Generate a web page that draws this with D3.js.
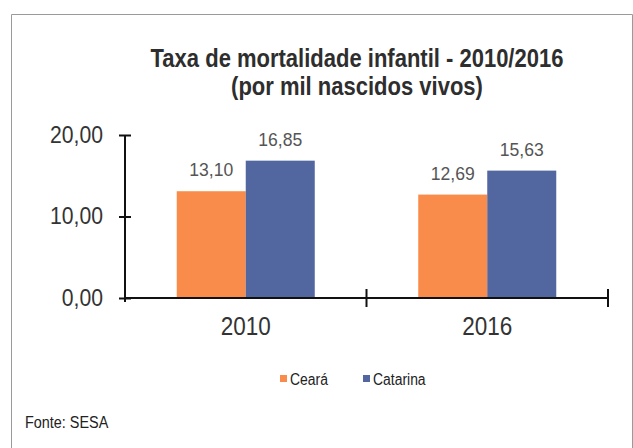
<!doctype html>
<html>
  <head>
    <meta charset="utf-8">
    <script src="https://cdn.jsdelivr.net/npm/d3@7"></script>
    <style>
      body { margin: 0; background: #fff; }
      text { font-family: "Liberation Sans", Arial, sans-serif; }
    </style>
  </head>
  <body>
    <script>
    var years = ["2010", "2016"];
    var series = ["Ceará", "Catarina"];
    var ceara = [13.10, 12.69];
    var catarina = [16.85, 15.63];
    var yTicks = [0, 10, 20];

    var width = 633;
    var height = 448;

    var colors = d3.scaleOrdinal()
                   .domain(series)
                   .range(["#f98c4a", "#5266a0"]);

    var br = d3.formatLocale({decimal: ",", thousands: ".", grouping: [3], currency: ["R$", ""]});
    var fmt = br.format(".2f");

    var data = years.map(function(y, i) {
      return {year: y, values: [ceara[i], catarina[i]]};
    });

    // squeeze text horizontally, the original uses a narrow font
    function narrow(sel, k) {
      sel.each(function() {
        var w = this.getComputedTextLength();
        d3.select(this)
          .attr("textLength", w * k)
          .attr("lengthAdjust", "spacingAndGlyphs");
      });
    }

    var svg = d3.select("body")
              .append("svg")
              .attr("width", width)
              .attr("height", height);

    // frame
    svg.append("path")
       .attr("d", "M11.5,460 V14.5 H632.5 V460")
       .attr("fill", "none")
       .attr("stroke", "#9a9a9a")
       .attr("stroke-width", 1);

    // title
    var title = svg.append("g")
                   .attr("font-weight", "bold")
                   .attr("fill", "#2e2e2e")
                   .style("font-size", "25px")
                   .attr("text-anchor", "middle");

    title.append("text")
         .attr("x", 357)
         .attr("y", 67)
         .text("Taxa de mortalidade infantil - 2010/2016");

    title.append("text")
         .attr("x", 357)
         .attr("y", 95)
         .text("(por mil nascidos vivos)");

    narrow(title.selectAll("text"), 0.88);

    // scales
    var x = d3.scaleBand()
              .domain(years)
              .range([125, 608])
              .paddingInner(0)
              .paddingOuter(0);

    var xSub = d3.scaleBand()
                 .domain(series)
                 .range([0, x.bandwidth()])
                 .paddingInner(0)
                 .paddingOuter(0.75);

    var y = d3.scaleLinear()
              .domain([0, 20])
              .range([298, 135]);

    // bars
    var groups = svg.selectAll(".grp")
                    .data(data)
                    .enter()
                    .append("g")
                      .attr("class", "grp")
                      .attr("transform", function(d) { return "translate(" + x(d.year) + ",0)"; });

    var cells = groups.selectAll("g")
                      .data(function(d) {
                        return d.values.map(function(v, j) { return {name: series[j], value: v}; });
                      })
                      .enter()
                      .append("g");

    cells.append("rect")
         .attr("x", function(d) { return xSub(d.name); })
         .attr("y", function(d) { return y(d.value); })
         .attr("width", xSub.bandwidth())
         .attr("height", function(d) { return y(0) - y(d.value); })
         .attr("fill", function(d) { return colors(d.name); });

    var valueLabels = cells.append("text")
         .attr("x", function(d) { return xSub(d.name) + xSub.bandwidth() / 2; })
         .attr("y", function(d) { return y(d.value) - 15; })
         .attr("text-anchor", "middle")
         .attr("fill", "#555")
         .style("font-size", "18.5px")
         .text(function(d) { return fmt(d.value); });

    narrow(valueLabels, 0.95);

    // y axis
    var yAxis = svg.append("g")
                   .attr("transform", "translate(125,0)")
                   .call(d3.axisLeft(y).tickValues(yTicks).tickFormat(fmt).tickSize(6).tickSizeOuter(0).tickPadding(16));

    yAxis.select(".domain").remove();
    yAxis.selectAll(".tick line")
         .attr("x1", 6)
         .attr("stroke", "#111")
         .attr("stroke-width", 2);
    yAxis.selectAll("text")
         .attr("fill", "#333")
         .style("font-size", "23px");
    narrow(yAxis.selectAll("text"), 0.92);

    svg.append("line")
       .attr("x1", 125).attr("x2", 125)
       .attr("y1", y(20)).attr("y2", y(0) + 4)
       .attr("stroke", "#111")
       .attr("stroke-width", 2);

    // x axis
    var xAxis = svg.append("g")
                   .attr("transform", "translate(0," + y(0) + ")")
                   .call(d3.axisBottom(x).tickSize(0).tickPadding(19));

    xAxis.select(".domain").remove();
    xAxis.selectAll("text")
         .attr("fill", "#333")
         .style("font-size", "25px");
    narrow(xAxis.selectAll("text"), 0.9);

    xAxis.append("line")
         .attr("x1", x.range()[0]).attr("x2", x.range()[1])
         .attr("y1", 0).attr("y2", 0)
         .attr("stroke", "#111")
         .attr("stroke-width", 2);

    var bounds = years.map(function(d) { return x(d) + x.bandwidth(); });
    xAxis.selectAll(".sep")
         .data(bounds)
         .enter()
         .append("line")
           .attr("class", "sep")
           .attr("x1", function(d) { return d; })
           .attr("x2", function(d) { return d; })
           .attr("y1", -9)
           .attr("y2", 9)
           .attr("stroke", "#111")
           .attr("stroke-width", 2);

    // legend
    var legendX = [280, 363];
    var legend = svg.selectAll(".leg")
                    .data(series)
                    .enter()
                    .append("g")
                      .attr("class", "leg")
                      .attr("transform", function(d, i) { return "translate(" + legendX[i] + ",375)"; });

    legend.append("rect")
          .attr("width", 7)
          .attr("height", 7)
          .attr("fill", function(d) { return colors(d); });

    legend.append("text")
          .attr("x", 10)
          .attr("y", 10)
          .attr("fill", "#222")
          .style("font-size", "16px")
          .text(function(d) { return d; });
    narrow(legend.selectAll("text"), 0.87);

    // source
    svg.append("text")
       .attr("class", "src")
       .attr("x", 25)
       .attr("y", 428)
       .attr("fill", "#222")
       .style("font-size", "16px")
       .text("Fonte: SESA");
    narrow(svg.selectAll(".src"), 0.9);
    </script>
  </body>
</html>
